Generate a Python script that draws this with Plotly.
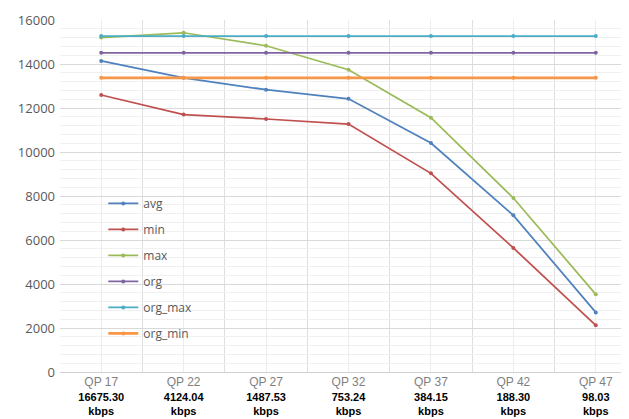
import plotly.graph_objects as go

qp_labels = ["QP 17", "QP 22", "QP 27", "QP 32", "QP 37", "QP 42", "QP 47"]
bitrates = ["16675.30", "4124.04", "1487.53", "753.24", "384.15", "188.30", "98.03"]

avg = [14140, 13370, 12830, 12420, 10410, 7120, 2710]
mn = [12590, 11700, 11500, 11270, 9030, 5640, 2120]
mx = [15200, 15420, 14830, 13740, 11560, 7910, 3530]
org = [14510] * 7
org_max = [15270] * 7
org_min = [13370] * 7

series = [
    ("avg", avg, "#4F81BD", 1.75),
    ("min", mn, "#C0504D", 1.75),
    ("max", mx, "#9BBB59", 1.75),
    ("org", org, "#8064A2", 1.75),
    ("org_max", org_max, "#4BACC6", 1.75),
    ("org_min", org_min, "#F79646", 2.75),
]

x = list(range(len(qp_labels)))
fig = go.Figure()
for i, (name, vals, col, w) in enumerate(series):
    fig.add_trace(go.Scatter(
        x=x, y=vals, name=name, mode="lines+markers",
        line=dict(color=col, width=w),
        marker=dict(size=4, color=col),
        legendgroup=f"g{i}",
    ))

ticktext = [
    f"<span style='color:#7f7f7f;font-size:12px'>{q}</span><br><b>{b}<br>kbps</b>"
    for q, b in zip(qp_labels, bitrates)
]

fig.update_layout(
    width=629, height=419,
    margin=dict(l=52, r=0, t=12, b=55, autoexpand=False),
    plot_bgcolor="white", paper_bgcolor="white",
    font=dict(family="Liberation Sans, Arial, sans-serif", size=11, color="#000000"),
    showlegend=True,
    legend=dict(
        x=0.075, y=0.52, xanchor="left", yanchor="top",
        bgcolor="rgba(0,0,0,0)",
        font=dict(size=12, color="#595959", family="Open Sans, sans-serif"),
        traceorder="grouped", tracegroupgap=7, itemwidth=30,
    ),
    xaxis=dict(
        range=[-0.5, 6.5], tickvals=x, ticktext=ticktext,
        showgrid=True, gridcolor="#ececec", gridwidth=1,
        zeroline=False, showline=True, linecolor="#d0d0d0", linewidth=1,
        ticks="", tickfont=dict(size=11, color="#000000"), automargin=False,
        minor=dict(tick0=-0.5, dtick=1, showgrid=True, gridcolor="#dedede", gridwidth=1),
        fixedrange=True,
    ),
    yaxis=dict(
        range=[0, 16000], dtick=2000, tickformat="d", automargin=False,
        showgrid=True, gridcolor="#d9d9d9", gridwidth=1,
        zeroline=False, showline=False, ticks="", ticklabelstandoff=4,
        tickfont=dict(size=13, color="#595959", family="Open Sans, sans-serif"),
        minor=dict(dtick=400, showgrid=True, gridcolor="#f0f0f0", gridwidth=1),
        fixedrange=True,
    ),
)

fig.write_html("out.html")
